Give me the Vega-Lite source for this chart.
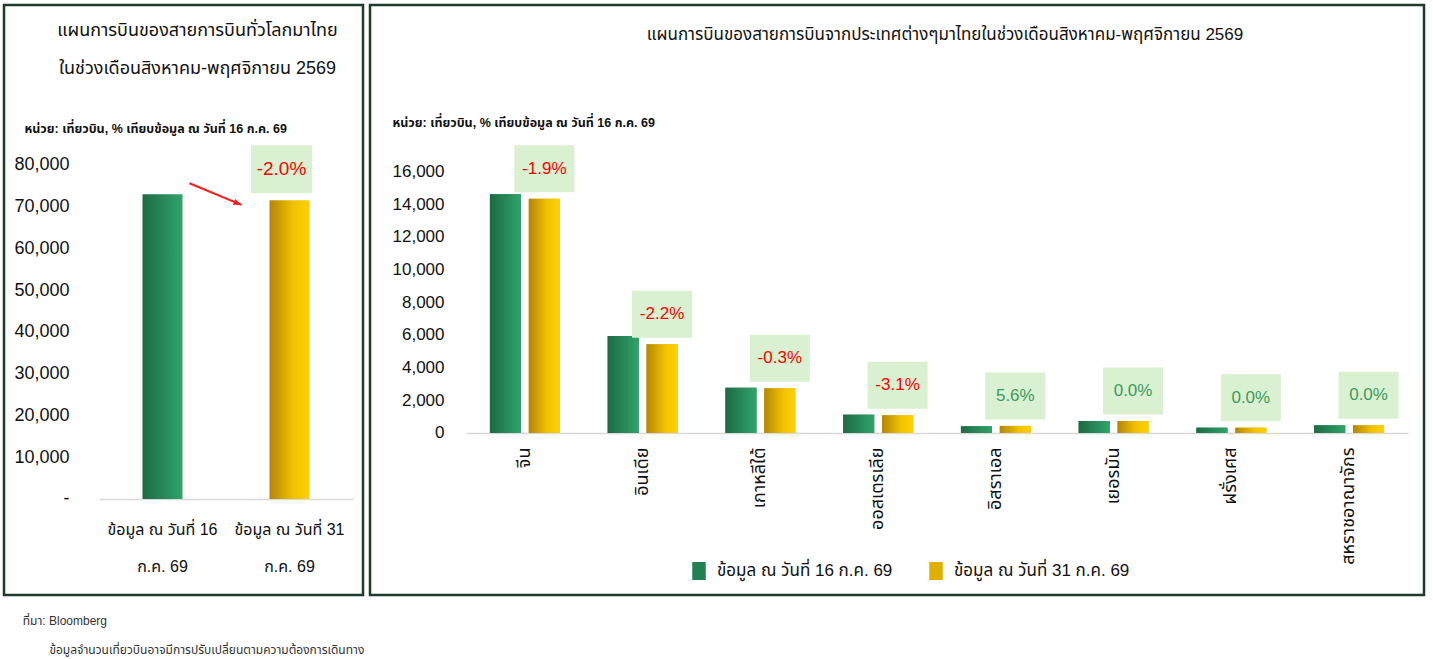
{
  "$schema": "https://vega.github.io/schema/vega-lite/v6.json",
  "background": "white",
  "padding": {"left": 2, "top": 3, "right": 0, "bottom": 0},
  "spacing": 3,
  "datasets": {
    "world": [
      {"series": "ข้อมูล ณ วันที่ 16 ก.ค. 69", "date": "16", "flights": 73000},
      {"series": "ข้อมูล ณ วันที่ 31 ก.ค. 69", "date": "31", "flights": 71550, "change": -0.02}
    ],
    "country": [
      {"country": "จีน", "series": "ข้อมูล ณ วันที่ 16 ก.ค. 69", "date": "16", "flights": 14600},
      {"country": "จีน", "series": "ข้อมูล ณ วันที่ 31 ก.ค. 69", "date": "31", "flights": 14320, "change": -0.019},
      {"country": "อินเดีย", "series": "ข้อมูล ณ วันที่ 16 ก.ค. 69", "date": "16", "flights": 5930},
      {"country": "อินเดีย", "series": "ข้อมูล ณ วันที่ 31 ก.ค. 69", "date": "31", "flights": 5420, "change": -0.022},
      {"country": "เกาหลีใต้", "series": "ข้อมูล ณ วันที่ 16 ก.ค. 69", "date": "16", "flights": 2770},
      {"country": "เกาหลีใต้", "series": "ข้อมูล ณ วันที่ 31 ก.ค. 69", "date": "31", "flights": 2740, "change": -0.003},
      {"country": "ออสเตรเลีย", "series": "ข้อมูล ณ วันที่ 16 ก.ค. 69", "date": "16", "flights": 1120},
      {"country": "ออสเตรเลีย", "series": "ข้อมูล ณ วันที่ 31 ก.ค. 69", "date": "31", "flights": 1085, "change": -0.031},
      {"country": "อิสราเอล", "series": "ข้อมูล ณ วันที่ 16 ก.ค. 69", "date": "16", "flights": 410},
      {"country": "อิสราเอล", "series": "ข้อมูล ณ วันที่ 31 ก.ค. 69", "date": "31", "flights": 433, "change": 0.056},
      {"country": "เยอรมัน", "series": "ข้อมูล ณ วันที่ 16 ก.ค. 69", "date": "16", "flights": 735},
      {"country": "เยอรมัน", "series": "ข้อมูล ณ วันที่ 31 ก.ค. 69", "date": "31", "flights": 735, "change": 0},
      {"country": "ฝรั่งเศส", "series": "ข้อมูล ณ วันที่ 16 ก.ค. 69", "date": "16", "flights": 325},
      {"country": "ฝรั่งเศส", "series": "ข้อมูล ณ วันที่ 31 ก.ค. 69", "date": "31", "flights": 325, "change": 0},
      {"country": "สหราชอาณาจักร", "series": "ข้อมูล ณ วันที่ 16 ก.ค. 69", "date": "16", "flights": 470},
      {"country": "สหราชอาณาจักร", "series": "ข้อมูล ณ วันที่ 31 ก.ค. 69", "date": "31", "flights": 470, "change": 0}
    ]
  },
  "title": {
    "text": "ที่มา: Bloomberg",
    "subtitle": "\u200b\u00a0\u00a0\u00a0\u00a0\u00a0\u00a0\u00a0\u00a0ข้อมูลจำนวนเที่ยวบินอาจมีการปรับเปลี่ยนตามความต้องการเดินทาง",
    "orient": "bottom",
    "anchor": "start",
    "dx": 20,
    "offset": 20,
    "fontSize": 12,
    "fontWeight": "normal",
    "color": "#333",
    "subtitleFontSize": 12,
    "subtitleColor": "#333",
    "subtitlePadding": 17
  },
  "hconcat": [
    {
      "width": 359,
      "height": 590,
      "title": {
        "text": ["แผนการบินของสายการบินทั่วโลกมาไทย", "ในช่วงเดือนสิงหาคม-พฤศจิกายน 2569"],
        "fontSize": 18,
        "fontWeight": "normal",
        "lineHeight": 38,
        "baseline": "middle",
        "anchor": "middle",
        "dx": 14,
        "offset": -82,
        "color": "#111"
      },
      "data": {"name": "world"},
      "encoding": {
        "x": {
          "field": "series",
          "type": "nominal",
          "scale": {"range": [95, 349], "paddingInner": 0.685, "paddingOuter": 0.3425},
          "axis": {
            "orient": "bottom",
            "offset": -96,
            "title": null,
            "ticks": false,
            "domainColor": "#d9d9d9",
            "domainWidth": 1.5,
            "labelAngle": 0,
            "labelPadding": 22,
            "labelFontSize": 16,
            "labelColor": "#111",
            "labelLineHeight": 37,
            "labelLimit": 0,
            "labelExpr": "[substring(datum.label, 0, indexof(datum.label, ' ก.ค.')), substring(datum.label, indexof(datum.label, ' ก.ค.') + 1)]"
          }
        },
        "y": {
          "field": "flights",
          "type": "quantitative",
          "scale": {"domain": [-22994, 118323], "nice": false, "zero": false},
          "axis": {
            "orient": "left",
            "offset": -65,
            "values": [0, 10000, 20000, 30000, 40000, 50000, 60000, 70000, 80000],
            "format": ",d",
            "labelExpr": "datum.value === 0 ? '-' : datum.label",
            "domain": false,
            "ticks": false,
            "grid": false,
            "labelPadding": 0,
            "labelFontSize": 18,
            "labelColor": "#111",
            "title": "หน่วย: เที่ยวบิน, % เทียบข้อมูล ณ วันที่ 16 ก.ค. 69",
            "titleAngle": 0,
            "titleX": -45,
            "titleY": 123,
            "titleAlign": "left",
            "titleBaseline": "middle",
            "titleFontSize": 12.5,
            "titleFontWeight": "bold",
            "titleColor": "#111"
          }
        }
      },
      "layer": [
        {
          "transform": [{"filter": "datum.date === '16'"}],
          "mark": {
            "type": "bar",
            "color": {"gradient": "linear", "x1": 0, "x2": 1, "y1": 0, "y2": 0, "stops": [{"offset": 0, "color": "#1d6a43"}, {"offset": 1, "color": "#2fa56b"}]}
          }
        },
        {
          "transform": [{"filter": "datum.date === '31'"}],
          "mark": {
            "type": "bar",
            "color": {"gradient": "linear", "x1": 0, "x2": 1, "y1": 0, "y2": 0, "stops": [{"offset": 0, "color": "#b3850a"}, {"offset": 0.6, "color": "#f2c200"}, {"offset": 1, "color": "#ffd000"}]}
          }
        },
        {
          "transform": [{"pivot": "date", "value": "flights"}],
          "mark": {"type": "rule", "color": "#ff1a1a", "strokeWidth": 2, "xOffset": 27, "yOffset": -11, "x2Offset": -48, "y2Offset": 4.6},
          "encoding": {
            "x": {"datum": "ข้อมูล ณ วันที่ 16 ก.ค. 69", "type": "nominal"},
            "x2": {"datum": "ข้อมูล ณ วันที่ 31 ก.ค. 69"},
            "y": {"field": "16", "type": "quantitative"},
            "y2": {"field": "31"}
          }
        },
        {
          "transform": [{"filter": "datum.date === '31'"}],
          "mark": {"type": "point", "shape": "M0,0L-2,-0.8L-2,0.8Z", "size": 64, "angle": 22, "filled": true, "opacity": 1, "color": "#ff1a1a", "xOffset": -48, "yOffset": 4.6}
        },
        {
          "transform": [{"filter": "datum.date === '31'"}],
          "mark": {"type": "point", "shape": "M-1,-0.787H1V0.787H-1Z", "size": 3721, "filled": true, "opacity": 1, "color": "#d9f1d1", "xOffset": -8, "yOffset": -31}
        },
        {
          "transform": [{"filter": "datum.date === '31'"}],
          "mark": {"type": "text", "fontSize": 19, "dx": -8, "dy": -31, "baseline": "middle", "align": "center"},
          "encoding": {
            "text": {"field": "change", "type": "quantitative", "format": ".1%"},
            "color": {"condition": {"test": "datum.change < 0", "value": "#ff0000"}, "value": "#3c9a5f"}
          }
        }
      ]
    },
    {
      "width": 1054,
      "height": 590,
      "title": {
        "text": "แผนการบินของสายการบินจากประเทศต่างๆมาไทยในช่วงเดือนสิงหาคม-พฤศจิกายน 2569",
        "fontSize": 17,
        "fontWeight": "normal",
        "baseline": "middle",
        "anchor": "middle",
        "dx": 48,
        "offset": -47,
        "color": "#111"
      },
      "data": {"name": "country"},
      "encoding": {
        "x": {
          "field": "country",
          "type": "nominal",
          "sort": null,
          "scale": {"range": [96, 1038], "paddingInner": 0.406, "paddingOuter": 0.203},
          "axis": {
            "orient": "bottom",
            "offset": -162,
            "title": null,
            "ticks": false,
            "domainColor": "#d9d9d9",
            "domainWidth": 1.5,
            "labelAngle": 270,
            "labelPadding": 14,
            "labelFontSize": 18,
            "labelColor": "#111",
            "labelLimit": 0
          }
        },
        "xOffset": {"field": "series", "type": "nominal", "scale": {"paddingInner": 0.2}},
        "y": {
          "field": "flights",
          "type": "quantitative",
          "scale": {"domain": [-9905, 26168], "nice": false, "zero": false},
          "axis": {
            "orient": "left",
            "offset": -74,
            "values": [0, 2000, 4000, 6000, 8000, 10000, 12000, 14000, 16000],
            "format": ",d",
            "domain": false,
            "ticks": false,
            "grid": false,
            "labelPadding": 0,
            "labelFontSize": 17,
            "labelColor": "#111",
            "title": "หน่วย: เที่ยวบิน, % เทียบข้อมูล ณ วันที่ 16 ก.ค. 69",
            "titleAngle": 0,
            "titleX": -52,
            "titleY": 117,
            "titleAlign": "left",
            "titleBaseline": "middle",
            "titleFontSize": 12.5,
            "titleFontWeight": "bold",
            "titleColor": "#111"
          }
        }
      },
      "layer": [
        {
          "mark": {"type": "bar"},
          "encoding": {
            "color": {
              "field": "series",
              "type": "nominal",
              "scale": {"range": ["#238052", "#e0b000"]},
              "legend": {
                "orient": "none",
                "legendX": 686,
                "legendY": 557,
                "direction": "horizontal",
                "title": null,
                "symbolType": "M-0.75,-1H0.75V1H-0.75Z",
                "symbolSize": 324,
                "symbolStrokeWidth": 0,
                "labelFontSize": 17,
                "labelColor": "#111",
                "labelOffset": 9,
                "columnPadding": 34,
                "labelLimit": 0
              }
            }
          }
        },
        {
          "transform": [{"filter": "datum.date === '16'"}],
          "mark": {
            "type": "bar",
            "color": {"gradient": "linear", "x1": 0, "x2": 1, "y1": 0, "y2": 0, "stops": [{"offset": 0, "color": "#1d6a43"}, {"offset": 1, "color": "#2fa56b"}]}
          }
        },
        {
          "transform": [{"filter": "datum.date === '31'"}],
          "mark": {
            "type": "bar",
            "color": {"gradient": "linear", "x1": 0, "x2": 1, "y1": 0, "y2": 0, "stops": [{"offset": 0, "color": "#b3850a"}, {"offset": 0.6, "color": "#f2c200"}, {"offset": 1, "color": "#ffd000"}]}
          }
        },
        {
          "transform": [{"filter": "datum.date === '31'"}],
          "mark": {"type": "point", "shape": "M-1,-0.783H1V0.783H-1Z", "size": 3600, "filled": true, "opacity": 1, "color": "#d9f1d1", "yOffset": -30}
        },
        {
          "transform": [{"filter": "datum.date === '31'"}],
          "mark": {"type": "text", "fontSize": 17, "dy": -30, "baseline": "middle", "align": "center"},
          "encoding": {
            "text": {"field": "change", "type": "quantitative", "format": ".1%"},
            "color": {"condition": {"test": "datum.change < 0", "value": "#ff0000"}, "value": "#3c9a5f"}
          }
        }
      ]
    }
  ],
  "config": {
    "font": "Liberation Sans, Noto Sans Thai, Noto Sans, sans-serif",
    "view": {"stroke": "#1d3b2a", "strokeWidth": 2.5},
    "locale": {"number": {"decimal": ".", "thousands": ",", "grouping": [3], "currency": ["", ""], "minus": "-"}}
  }
}
